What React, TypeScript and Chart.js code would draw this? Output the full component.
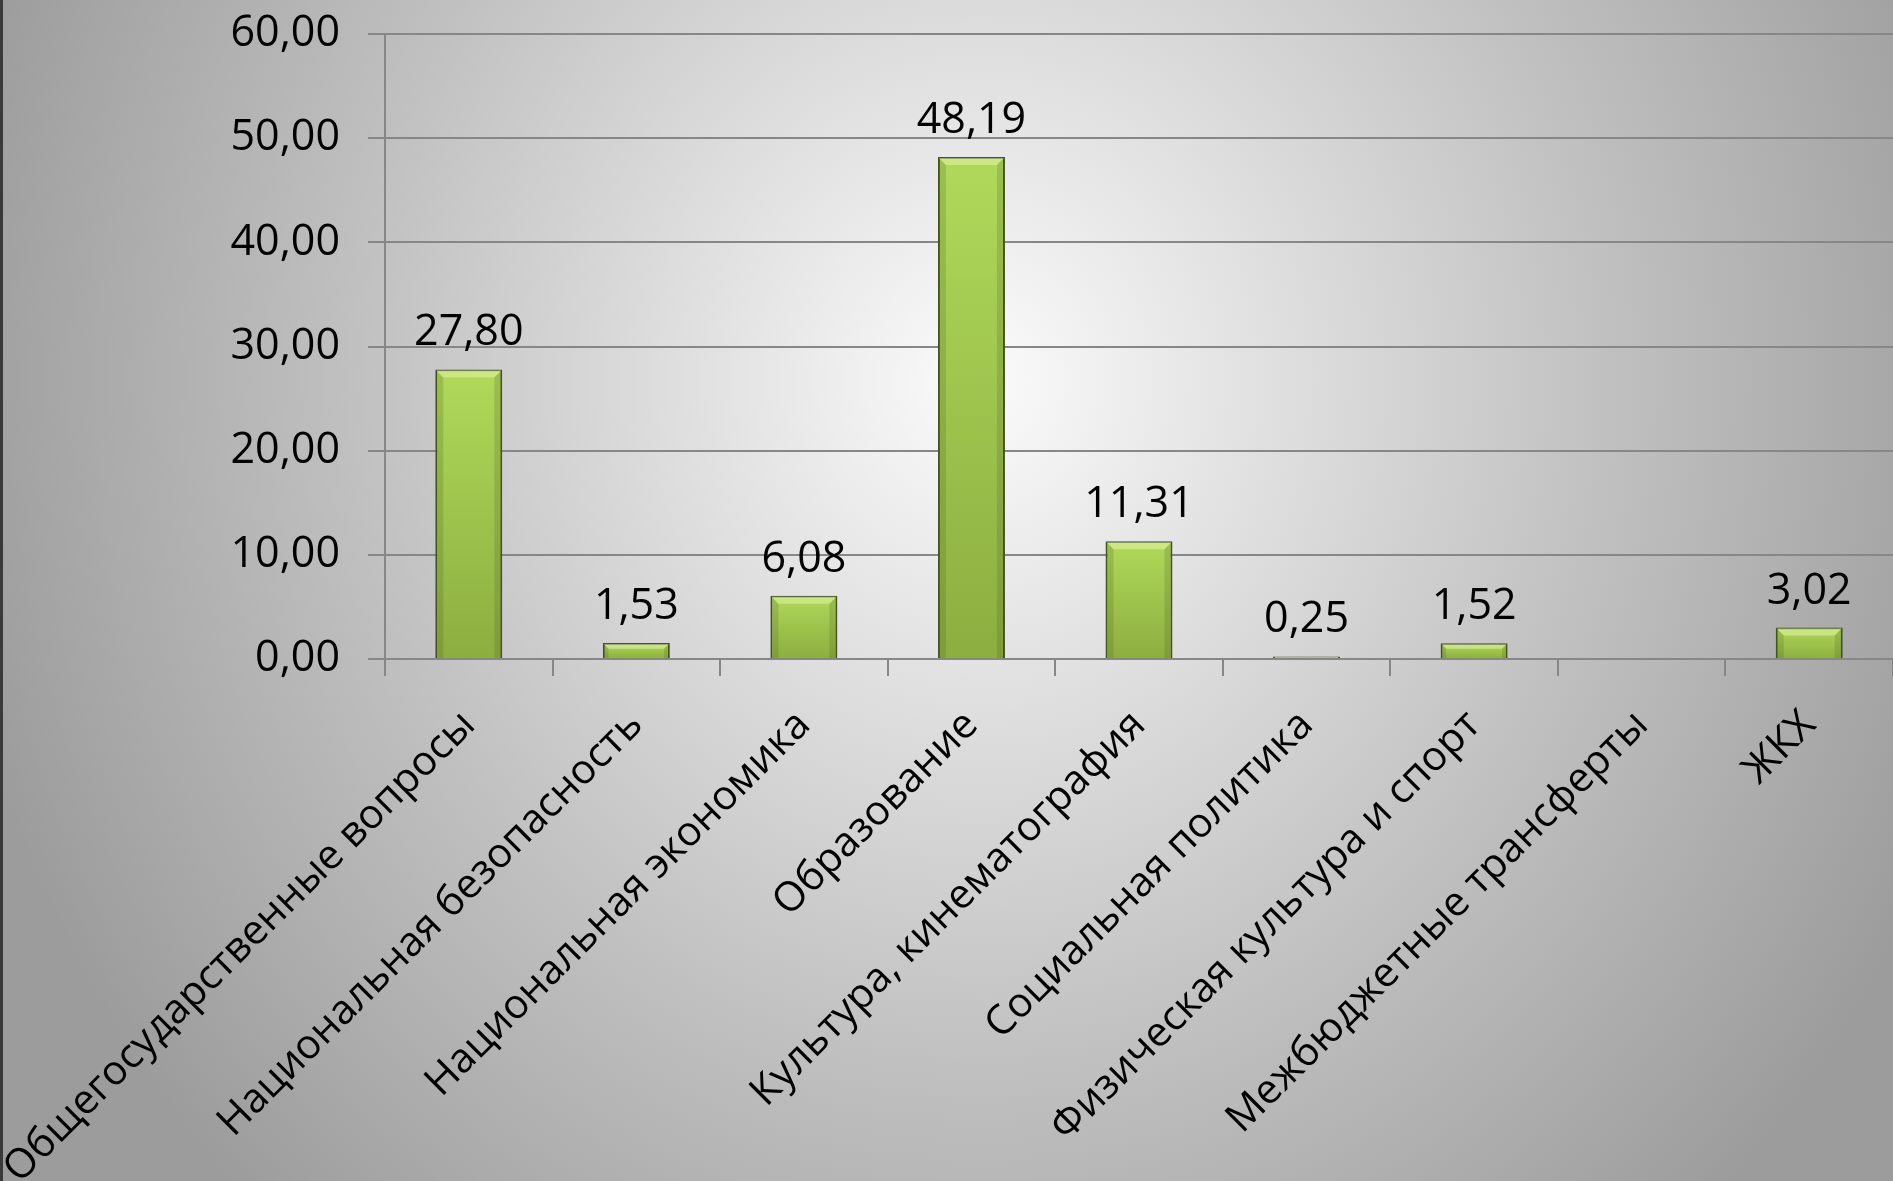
import React, { useEffect, useRef } from 'react';
import { Chart, registerables } from 'chart.js';

Chart.register(...registerables);

const categories = [
  'Общегосударственные вопросы',
  'Национальная безопасность',
  'Национальная экономика',
  'Образование',
  'Культура, кинематография',
  'Социальная политика',
  'Физическая культура и спорт',
  'Межбюджетные трансферты',
  'ЖКХ',
];
const values: (number | null)[] = [27.8, 1.53, 6.08, 48.19, 11.31, 0.25, 1.52, null, 3.02];
const Y_MIN = 0;
const Y_MAX = 60;
const Y_STEP = 10;

const FONT = "'Open Sans', sans-serif";
const fmt = (v: number) => v.toFixed(2).replace('.', ',');

const W = 1893;
const H = 1181;

const bgPlugin = {
  id: 'bgGradient',
  beforeDraw(chart: any) {
    const { ctx, width, height } = chart;
    ctx.save();
    const cx = 980;
    const cy = 380;
    const rx = 1050;
    const ry = 1150;
    ctx.translate(cx, cy);
    ctx.scale(1, ry / rx);
    const g = ctx.createRadialGradient(0, 0, 0, 0, 0, rx);
    g.addColorStop(0, '#fbfbfb');
    g.addColorStop(0.6, '#c0c0c0');
    g.addColorStop(1, '#9c9c9c');
    ctx.fillStyle = g;
    ctx.fillRect(-cx - 20, -cy - 20, width + 40, height * 2);
    ctx.restore();
    ctx.save();
    ctx.fillStyle = '#3a3a3a';
    ctx.fillRect(0, 0, 3, height);
    ctx.restore();
  },
};

const barDecorPlugin = {
  id: 'barDecor',
  afterDatasetsDraw(chart: any) {
    const { ctx } = chart;
    const meta = chart.getDatasetMeta(0);
    ctx.save();
    // bevel highlights on bars
    meta.data.forEach((el: any, i: number) => {
      const v = values[i];
      if (v === null || v === undefined) return;
      const left = el.x - el.width / 2 + 1;
      const right = el.x + el.width / 2 - 1;
      const top = el.y + 1;
      const bottom = el.base;
      const h = bottom - top;
      if (h < 6) return;
      const b = Math.min(7, h / 3);
      ctx.fillStyle = 'rgba(225, 245, 160, 0.55)';
      ctx.beginPath();
      ctx.moveTo(left, top);
      ctx.lineTo(right, top);
      ctx.lineTo(right - b, top + b);
      ctx.lineTo(left + b, top + b);
      ctx.closePath();
      ctx.fill();
      ctx.fillStyle = 'rgba(60, 80, 20, 0.18)';
      ctx.beginPath();
      ctx.moveTo(left, top);
      ctx.lineTo(left + b, top + b);
      ctx.lineTo(left + b, bottom);
      ctx.lineTo(left, bottom);
      ctx.closePath();
      ctx.fill();
      ctx.beginPath();
      ctx.moveTo(right, top);
      ctx.lineTo(right - b, top + b);
      ctx.lineTo(right - b, bottom);
      ctx.lineTo(right, bottom);
      ctx.closePath();
      ctx.fill();
    });
    // value labels
    ctx.font = `43px ${FONT}`;
    ctx.fillStyle = '#000';
    ctx.textAlign = 'center';
    ctx.textBaseline = 'alphabetic';
    meta.data.forEach((el: any, i: number) => {
      const v = values[i];
      if (v === null || v === undefined) return;
      ctx.fillText(fmt(v), el.x, el.y - 24);
    });
    ctx.restore();
  },
};

export default function App() {
  const ref = useRef<HTMLCanvasElement | null>(null);

  useEffect(() => {
    if (!ref.current) return;
    const chart = new Chart(ref.current, {
      type: 'bar',
      data: {
        labels: categories,
        datasets: [
          {
            data: values,
            backgroundColor: (c: any) => {
              const area = c.chart.chartArea;
              const v = values[c.dataIndex];
              if (!area || v === null || v === undefined) return '#a4cc52';
              const ys = c.chart.scales.y;
              const top = ys.getPixelForValue(v);
              const bottom = ys.getPixelForValue(0);
              if (bottom - top < 2) return '#b4d266';
              const g = c.chart.ctx.createLinearGradient(0, top, 0, bottom);
              g.addColorStop(0, '#b0d95a');
              g.addColorStop(1, '#8cae40');
              return g;
            },
            borderColor: '#43561f',
            borderWidth: 2,
            barPercentage: 0.4,
            categoryPercentage: 1,
          },
        ],
      },
      options: {
        responsive: false,
        animation: false,
        devicePixelRatio: 1,
        layout: { padding: { top: 34, left: 0, right: 0, bottom: 0 } },
        plugins: {
          legend: { display: false },
          tooltip: { enabled: false },
        },
        scales: {
          x: {
            grid: {
              offset: true,
              drawOnChartArea: false,
              drawTicks: true,
              tickLength: 17,
              color: '#878787',
              lineWidth: 2,
            },
            border: { display: true, color: '#878787', width: 2 },
            ticks: {
              font: { family: FONT, size: 41 },
              color: '#000',
              maxRotation: 45,
              minRotation: 45,
              autoSkip: false,
              padding: 25,
            },
            afterFit: (s: any) => {
              s.height = H - 659;
              s.paddingLeft = 0;
              s.paddingRight = 0;
            },
          },
          y: {
            min: Y_MIN,
            max: Y_MAX,
            ticks: {
              stepSize: Y_STEP,
              callback: (v: any) => fmt(Number(v)),
              font: { family: FONT, size: 43 },
              color: '#000',
              padding: 28,
            },
            grid: {
              color: '#878787',
              lineWidth: 2,
              tickLength: 17,
              drawTicks: true,
            },
            border: { display: true, color: '#878787', width: 2 },
            afterFit: (s: any) => {
              s.width = 385;
              s.paddingTop = 0;
              s.paddingBottom = 0;
            },
          },
        },
      },
      plugins: [bgPlugin, barDecorPlugin],
    });
    return () => chart.destroy();
  }, []);

  return (
    <div style={{ position: 'absolute', left: 0, top: 0, width: W, height: H, overflow: 'hidden' }}>
      <canvas ref={ref} width={W} height={H} style={{ display: 'block', width: W, height: H }} />
    </div>
  );
}
